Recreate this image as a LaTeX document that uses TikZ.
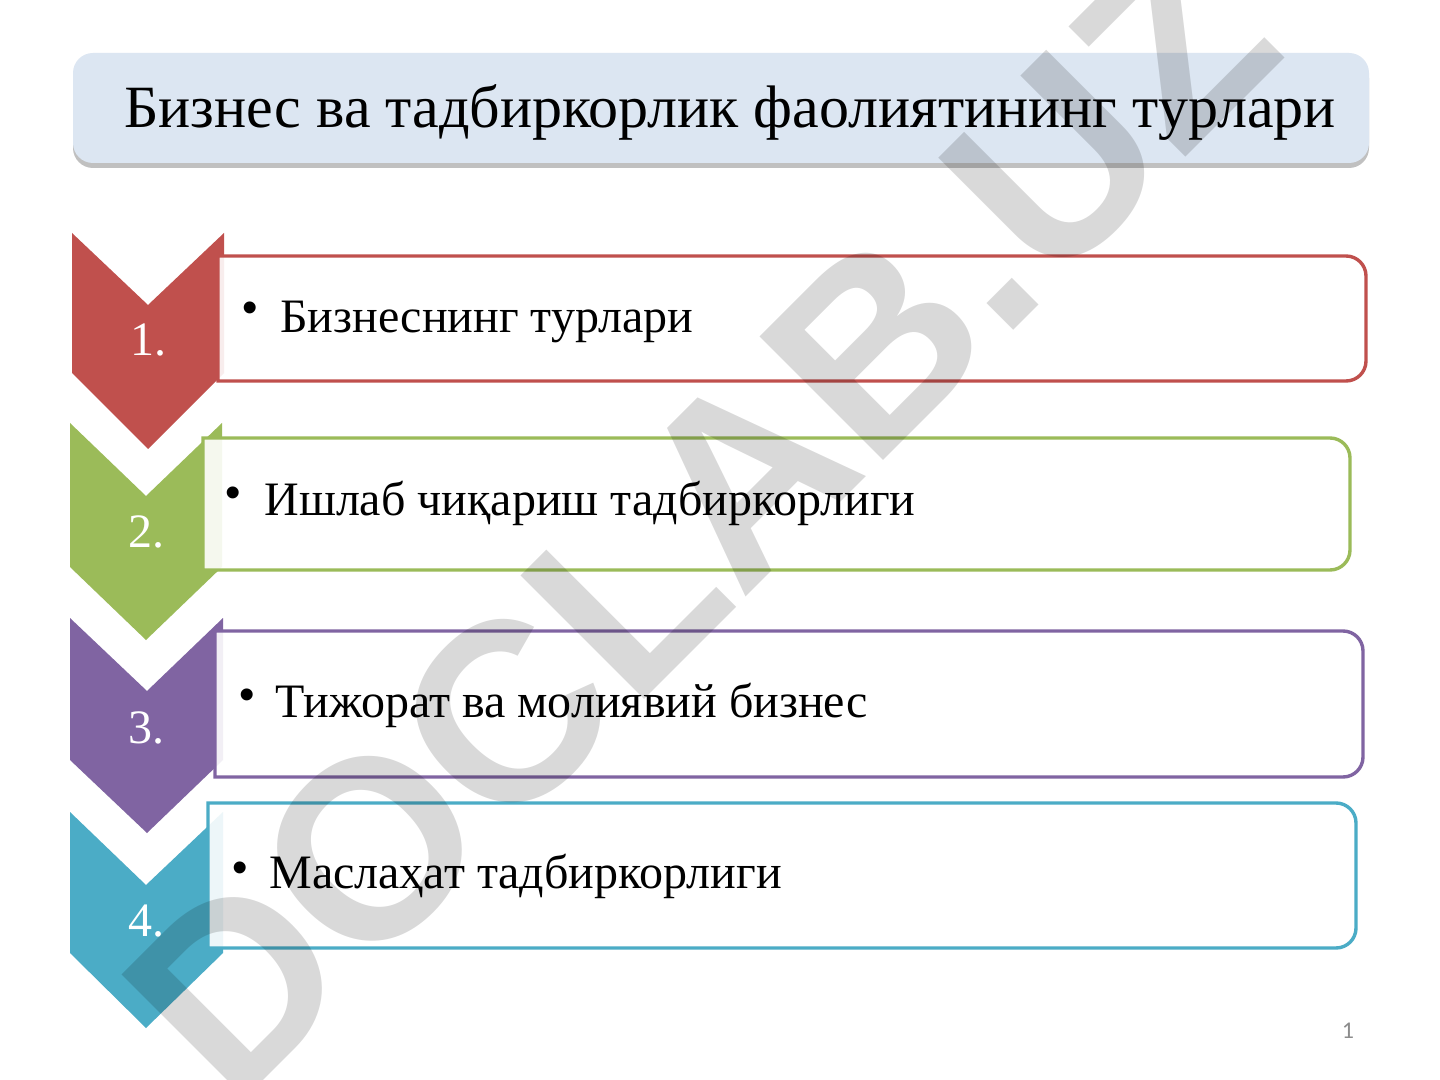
\documentclass[tikz,border=0pt]{standalone}
\usepackage{fontspec}
\setmainfont{Liberation Serif}
\newfontfamily\marksans{Liberation Sans}
\newfontfamily\pagesans{Carlito}
\usetikzlibrary{shadows}

\definecolor{chevred}{HTML}{C0504D}
\definecolor{chevgreen}{HTML}{9BBB59}
\definecolor{chevpurple}{HTML}{8064A2}
\definecolor{chevteal}{HTML}{4BACC6}
\definecolor{titlefill}{HTML}{DCE6F2}

\begin{document}
\begin{tikzpicture}[x=0.5pt,y=-0.5pt,
    chevron/.style={draw=none},
    listbox/.style={line width=1.7pt,fill=white,fill opacity=0.9,draw opacity=1},
    numtext/.style={text=white,anchor=base,inner sep=0pt,font=\fontsize{24}{24}\selectfont},
    itemtext/.style={anchor=base west,inner sep=0pt,font=\fontsize{24}{24}\selectfont},
    bulletmark/.style={anchor=base,inner sep=0pt,font=\marksans\fontsize{22}{22}\selectfont}]

      \useasboundingbox[fill=white] (0,0) rectangle (1440,1080);

      % title
      \fill[titlefill,rounded corners=10pt,
        drop shadow={shadow xshift=0pt,shadow yshift=-2.5pt,opacity=0.35,fill=black!70}]
        (73,53) rectangle (1369,163);
      \node[anchor=base west,inner sep=0pt,font=\fontsize{30}{30}\selectfont] (title) at (124,128)
        {Бизнес ва тадбиркорлик фаолиятининг турлари};

      % chevrons
      \begin{scope}[every path/.style={chevron}]
        \fill[chevred]    (72,233) -- (148,305) -- (224,233) -- (224,373) -- (148,449) -- (72,373) -- cycle;
        \fill[chevgreen]  (70,423) -- (146,496) -- (222,423) -- (222,567) -- (146,640) -- (70,567) -- cycle;
        \fill[chevpurple] (70,618) -- (147,691) -- (223,618) -- (223,760) -- (147,833) -- (70,760) -- cycle;
        \fill[chevteal]   (70,812) -- (146,885) -- (223,812) -- (223,953) -- (146,1028) -- (70,953) -- cycle;
      \end{scope}

      % boxes
      \begin{scope}[every path/.style={listbox}]
        \path[draw=chevred]    (218,256) -- (1346,256) arc[start angle=-90,end angle=0,radius=20]
          -- (1366,361) arc[start angle=0,end angle=90,radius=20] -- (218,381) -- cycle;
        \path[draw=chevgreen]  (203,438) -- (1330,438) arc[start angle=-90,end angle=0,radius=20]
          -- (1350,550) arc[start angle=0,end angle=90,radius=20] -- (203,570) -- cycle;
        \path[draw=chevpurple] (215,631) -- (1343,631) arc[start angle=-90,end angle=0,radius=20]
          -- (1363,757) arc[start angle=0,end angle=90,radius=20] -- (215,777) -- cycle;
        \path[draw=chevteal]   (208,803) -- (1336,803) arc[start angle=-90,end angle=0,radius=20]
          -- (1356,928) arc[start angle=0,end angle=90,radius=20] -- (208,948) -- cycle;
      \end{scope}

      % numbers
      \node[numtext] (n1) at (148,356) {1.};
      \node[numtext] (n2) at (146,547) {2.};
      \node[numtext] (n3) at (146,743) {3.};
      \node[numtext] (n4) at (146,936) {4.};

      % items
      \node[bulletmark] (b1) at (250,323) {•};
      \node[bulletmark] (b2) at (233,508) {•};
      \node[bulletmark] (b3) at (247,709) {•};
      \node[bulletmark] (b4) at (240,882) {•};
      \node[itemtext] (t1) at (280,333) {Бизнеснинг турлари};
      \node[itemtext] (t2) at (264,516) {Ишлаб чиқариш тадбиркорлиги};
      \node[itemtext] (t3) at (275,717) {Тижорат ва молиявий бизнес};
      \node[itemtext] (t4) at (269,888) {Маслаҳат тадбиркорлиги};

      % page number
      \node[text=black!45,inner sep=0pt,font=\pagesans\fontsize{12}{12}\selectfont] (page) at (1348,1031) {1};

      % watermark
      \node[rotate=45,inner sep=0pt,text=black,text opacity=0.15,
        font=\marksans\bfseries\fontsize{127}{127}\selectfont] (mark) at (700,520) {DOCLAB.UZ};

    \end{tikzpicture}
\end{document}
